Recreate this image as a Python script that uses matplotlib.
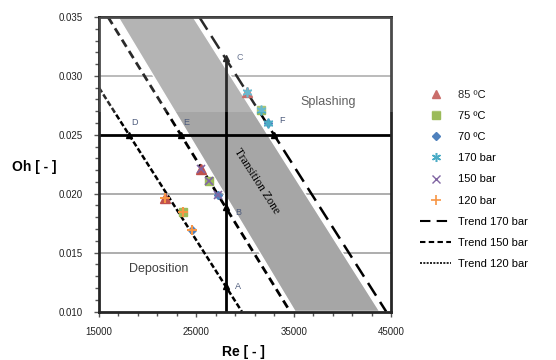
import matplotlib
matplotlib.use("Agg")
import matplotlib.pyplot as plt
import numpy as np
from matplotlib.lines import Line2D
from matplotlib.patches import Polygon, Rectangle
from matplotlib.ticker import MultipleLocator, FixedLocator, FormatStrFormatter

plt.rcParams['font.family'] = ['Liberation Sans', 'DejaVu Sans']

# ---- data ----
x_ticks = [15000, 25000, 35000, 45000]
y_ticks = [0.010, 0.015, 0.020, 0.025, 0.030, 0.035]

# trend lines (endpoints)
trend120_re = [15000, 29670]
trend120_oh = [0.0290, 0.010]
trend150_re = [15925, 34630]
trend150_oh = [0.035, 0.010]
trend170_re = [25300, 44500]
trend170_oh = [0.035, 0.010]

# transition zone (parallelogram)
zone_re = [16950, 24690, 43850, 35140]
zone_oh = [0.035, 0.035, 0.010, 0.010]

# measured points: rows 120 / 150 / 170 bar, columns 85 / 75 / 70 °C
re_120 = [21780, 23670, 24520]
oh_120 = [0.01961, 0.01847, 0.01692]
re_150 = [25450, 26300, 27260]
oh_150 = [0.02207, 0.02110, 0.01989]
re_170 = [30240, 31650, 32400]
oh_170 = [0.02866, 0.02710, 0.02598]

re_line = 28000
oh_line = 0.025

fig = plt.figure(figsize=(5.56, 3.60), dpi=100)
ax = fig.add_axes([99/556, 1-311.5/360, (391-99)/556, (311.5-17)/360])

ax.set_xlim(x_ticks[0], x_ticks[-1])
ax.set_ylim(y_ticks[0], y_ticks[-1])

# grid
for y in [0.015, 0.020, 0.030]:
    ax.axhline(y, color='#a0a0a0', lw=1.2, zorder=1)

# zone
zone = Polygon(np.column_stack([zone_re, zone_oh]), closed=True,
               facecolor='#a6a6a6', edgecolor='white', lw=1.0, zorder=2)
ax.add_patch(zone)

# trend lines
ax.plot(trend170_re, trend170_oh, color='black', lw=1.8, dashes=(6, 3), zorder=4)
ax.plot(trend150_re, trend150_oh, color='black', lw=2.0, dashes=(3, 1.8), zorder=4)
ax.plot(trend120_re, trend120_oh, color='black', lw=1.8, dashes=(2.2, 1.0), zorder=4)

def at_re(res, ohs, r):
    s = (ohs[1]-ohs[0])/(res[1]-res[0])
    return ohs[0] + s*(r-res[0])

def at_oh(res, ohs, o):
    s = (ohs[1]-ohs[0])/(res[1]-res[0])
    return res[0] + (o-ohs[0])/s

A = (re_line, at_re(trend120_re, trend120_oh, re_line))
B = (re_line, at_re(trend150_re, trend150_oh, re_line))
C = (re_line, at_re(trend170_re, trend170_oh, re_line))
D = (at_oh(trend120_re, trend120_oh, oh_line), oh_line)
E = (at_oh(trend150_re, trend150_oh, oh_line), oh_line)
F = (at_oh(trend170_re, trend170_oh, oh_line), oh_line)

# reference lines
ax.plot([re_line, re_line], [0.010, C[1]], color='black', lw=2.0, zorder=5)
ax.axhline(oh_line, color='black', lw=2.0, zorder=5)

for p in [A, B, C, D, E, F]:
    ax.plot(p[0], p[1], marker='^', color='black', ms=5, zorder=6)

lab_col = '#4d5b7c'
for name, p, off in [('A', A, (9, 0)), ('B', B, (9, -4)), ('C', C, (10, 1)),
                     ('D', D, (4, 9)), ('E', E, (4, 9)), ('F', F, (6, 10))]:
    ax.annotate(name, p, xytext=off, textcoords='offset points', fontsize=6.5,
                color=lab_col, ha='center', va='center', zorder=7)

# temperature markers
c85, c75, c70 = '#c0504d', '#9bbb59', '#4f81bd'
c170, c150, c120 = '#4bacc6', '#8064a2', '#f79646'
for res, ohs in [(re_120, oh_120), (re_150, oh_150), (re_170, oh_170)]:
    ax.plot(res[0], ohs[0], marker='^', color=c85, ms=7, ls='none', zorder=8)
    ax.plot(res[1], ohs[1], marker='s', color=c75, ms=6, ls='none', zorder=8)
    ax.plot(res[2], ohs[2], marker='D', color=c70, ms=4.5, ls='none', zorder=8)
ax.plot(re_170, oh_170, marker=(6, 2, 0), color=c170, ms=7, ls='none', mew=1.2, zorder=9)
ax.plot(re_150, oh_150, marker='x', color=c150, ms=6, ls='none', mew=1.2, zorder=9)
ax.plot(re_120, oh_120, marker='+', color=c120, ms=7, ls='none', mew=1.5, zorder=9)

# region texts
ax.text(38535, 0.02781, 'Splashing', fontsize=9, color='#404040', ha='center', va='center', zorder=7)
ax.text(21115, 0.01361, 'Deposition', fontsize=9, color='#404040', ha='center', va='center', zorder=7)
ax.text(31250, 0.02110, 'Transition Zone', fontsize=8.5, color='black', rotation=-57.5,
        ha='center', va='center', rotation_mode='anchor', family='Liberation Serif', zorder=7)

# axes styling
for s in ax.spines.values():
    s.set_linewidth(2.0)
    s.set_color('#262626')
    s.set_zorder(10)
ax.xaxis.set_major_locator(FixedLocator(x_ticks))
ax.xaxis.set_minor_locator(FixedLocator(np.arange(x_ticks[0], x_ticks[-1] + 1, 2000)))
ax.xaxis.set_major_formatter(FormatStrFormatter('%d'))
ax.yaxis.set_major_locator(FixedLocator(y_ticks))
ax.yaxis.set_minor_locator(MultipleLocator(0.001))
ax.yaxis.set_major_formatter(FormatStrFormatter('%.3f'))
ax.tick_params(which='both', direction='out', color='#555555', width=1.0, labelsize=7, labelcolor='#222222')
ax.tick_params(which='major', length=3.5)
ax.tick_params(which='minor', length=3)
ax.tick_params(axis='x', pad=8)
ax.tick_params(axis='y', pad=8)

fig.text(34/556, 1-167/360, 'Oh [ - ]', fontsize=10, fontweight='bold', ha='center', va='center')
fig.text(243/556, 1-352/360, 'Re [ - ]', fontsize=10, fontweight='bold', ha='center', va='center')

# screenshot overlay (lighter upper band)
fig.patches.append(Rectangle((99/556, 1-112/360), (480-99)/556, (112-17)/360,
                             transform=fig.transFigure, facecolor='white', alpha=0.17,
                             edgecolor='none', zorder=20))

handles = [
    Line2D([], [], ls='none', marker='^', color=c85, ms=6),
    Line2D([], [], ls='none', marker='s', color=c75, ms=5.5),
    Line2D([], [], ls='none', marker='D', color=c70, ms=4),
    Line2D([], [], ls='none', marker=(6, 2, 0), color=c170, ms=6.5, mew=1.1),
    Line2D([], [], ls='none', marker='x', color=c150, ms=5.5, mew=1.0),
    Line2D([], [], ls='none', marker='+', color=c120, ms=6.5, mew=1.2),
    Line2D([], [], color='black', lw=1.5, dashes=(5, 3)),
    Line2D([], [], color='black', lw=1.5, dashes=(2.6, 1.6)),
    Line2D([], [], color='black', lw=1.2, dashes=(1.2, 0.8)),
]
labels = ['85 ºC', '75 ºC', '70 ºC', '170 bar', '150 bar', '120 bar',
          'Trend 170 bar', 'Trend 150 bar', 'Trend 120 bar']
fig.legend(handles, labels, loc='upper left', bbox_to_anchor=(420/556, 1-90/360),
           frameon=False, fontsize=8, handlelength=2.8, handletextpad=0.6,
           labelspacing=1.0, borderpad=0, borderaxespad=0)

fig.savefig('out.png', dpi=100)
